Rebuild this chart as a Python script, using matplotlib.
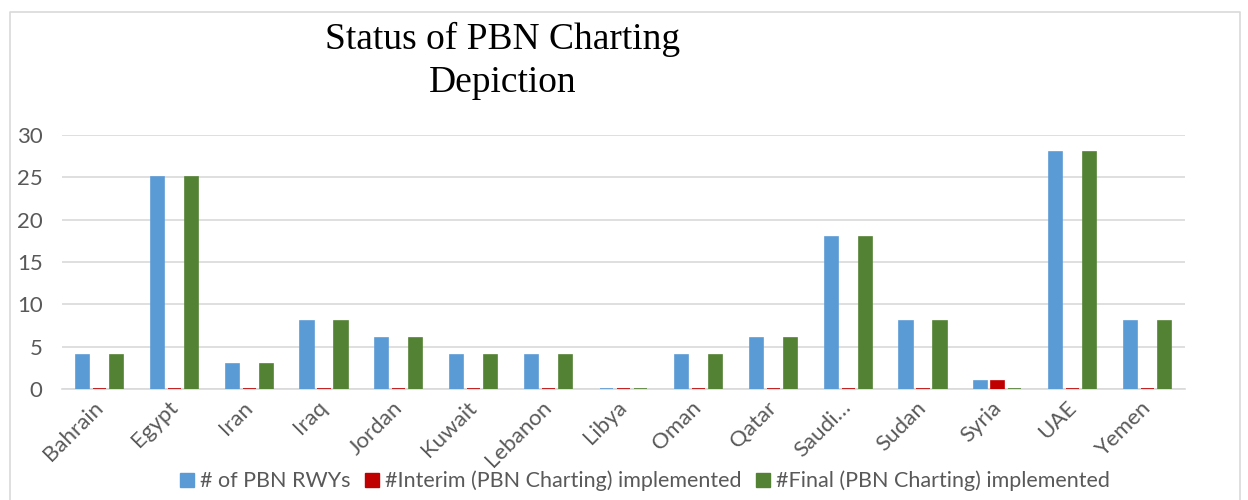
import numpy as np
import matplotlib
matplotlib.use("Agg")
import matplotlib.pyplot as plt
import matplotlib.transforms as mtrans
from matplotlib.lines import Line2D

countries = ["Bahrain", "Egypt", "Iran", "Iraq", "Jordan", "Kuwait", "Lebanon", "Libya",
             "Oman", "Qatar", "Saudi…", "Sudan", "Syria", "UAE", "Yemen"]
pbn_rwys = [4, 25, 3, 8, 6, 4, 4, 0, 4, 6, 18, 8, 1, 28, 8]
interim = [0, 0, 0, 0, 0, 0, 0, 0, 0, 0, 0, 0, 1, 0, 0]
final = [4, 25, 3, 8, 6, 4, 4, 0, 4, 6, 18, 8, 0, 28, 8]

series_names = ["# of PBN RWYs", "#Interim (PBN Charting) implemented",
                "#Final (PBN Charting) implemented"]
colors = ["#5B9BD5", "#C00000", "#548235"]
grey = "#595959"

plt.rcParams["font.family"] = ["Lato", "DejaVu Sans"]

fig = plt.figure(figsize=(12.48, 5), dpi=100)
ax = fig.add_axes([62 / 1248, 1 - 389 / 500, (1185 - 62) / 1248, (389 - 135) / 500])

x = np.arange(len(countries))
offset = 0.227
width = 0.175
for i, (vals, col) in enumerate(zip([pbn_rwys, interim, final], colors)):
    # zero bars show up as a thin line, like in the excel chart
    ax.bar(x + (i - 1) * offset, vals, width, color=col, edgecolor=col,
           linewidth=1.2, zorder=3)

ax.set_xlim(-0.5, len(countries) - 0.5)
ax.set_ylim(0, 30)
ax.set_yticks(range(0, 31, 5))
ax.yaxis.grid(True, color="#D9D9D9", linewidth=1.2, zorder=0)
for s in ["top", "right", "left"]:
    ax.spines[s].set_visible(False)
ax.spines["bottom"].set_color("#D9D9D9")
ax.spines["bottom"].set_linewidth(1.2)
ax.tick_params(axis="y", length=0, pad=14, labelsize=16, labelcolor=grey)
ax.tick_params(axis="x", length=0, pad=6, labelsize=16, labelcolor=grey)
ax.set_xticks(x)
ax.set_xticklabels(countries, rotation=45, ha="right", rotation_mode="anchor")
shift = mtrans.ScaledTranslation(-7 / 100, 0, fig.dpi_scale_trans)
for lab in ax.get_xticklabels():
    lab.set_transform(lab.get_transform() + shift)

fig.text(503 / 1248, 1 - 22 / 500, "Status of PBN Charting\nDepiction", ha="center",
         va="top", fontsize=27, family="Liberation Serif", linespacing=1.3)

handles = [Line2D([], [], marker="s", linestyle="", markersize=10, color=c) for c in colors]
fig.legend(handles, series_names, loc="center", bbox_to_anchor=(643 / 1248, 1 - 481 / 500),
           ncol=3, frameon=False, fontsize=15.5, labelcolor=grey, handletextpad=0.1,
           columnspacing=0.5, handlelength=1.0)

# light chart-area border
fig.add_artist(Line2D([10 / 1248, 10 / 1248, 1240 / 1248, 1240 / 1248],
                      [0, 1 - 12 / 500, 1 - 12 / 500, 0], transform=fig.transFigure,
                      color="#D9D9D9", linewidth=1.2))

fig.savefig("out.png", dpi=100)
